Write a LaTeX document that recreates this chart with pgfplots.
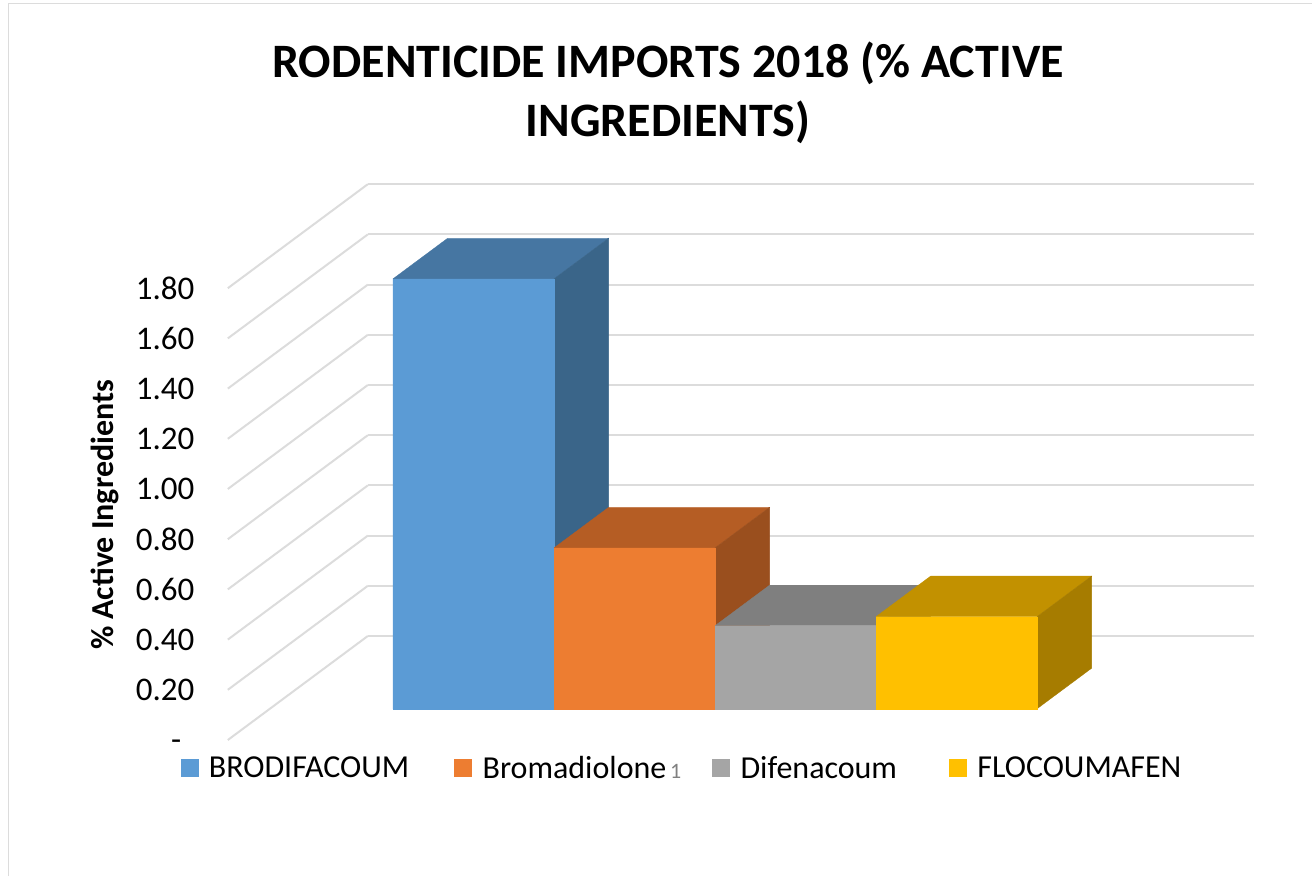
\documentclass[border=0pt]{standalone}
\usepackage{fontspec}
\setmainfont{Carlito}
\usepackage{pgfplots}
\pgfplotsset{compat=1.18}

\definecolor{blueF}{HTML}{5B9BD5}
\definecolor{blueT}{HTML}{4676A2}
\definecolor{blueS}{HTML}{3A6589}
\definecolor{orangeF}{HTML}{ED7D31}
\definecolor{orangeT}{HTML}{B55D24}
\definecolor{orangeS}{HTML}{9A4F1E}
\definecolor{grayF}{HTML}{A5A5A5}
\definecolor{grayT}{HTML}{7F7F7F}
\definecolor{grayS}{HTML}{6A6A6A}
\definecolor{yellowF}{HTML}{FFC000}
\definecolor{yellowT}{HTML}{C29100}
\definecolor{yellowS}{HTML}{A67C00}
\definecolor{gridc}{HTML}{DCDCDC}

% one 3d column: x0, x1, value, colour prefix
\newcommand{\rbar}[4]{
\addplot3[forget plot, fill=#4T, draw=#4T, line width=0.3pt] coordinates {(#1,0.3,#3) (#2,0.3,#3) (#2,0.69,#3) (#1,0.69,#3) (#1,0.3,#3)};
\addplot3[forget plot, fill=#4S, draw=#4S, line width=0.3pt] coordinates {(#2,0.3,0) (#2,0.69,0) (#2,0.69,#3) (#2,0.3,#3) (#2,0.3,0)};
\addplot3[fill=#4F, draw=#4F, line width=0.3pt] coordinates {(#1,0.3,0) (#2,0.3,0) (#2,0.3,#3) (#1,0.3,#3) (#1,0.3,0)};
}

\begin{document}
\begin{tikzpicture}
\begin{axis}[
  x={(161pt,0pt)}, y={(140pt,104pt)}, z={(0pt,251pt)},
  xmin=-0.765, xmax=4.74, ymin=0, ymax=1, zmin=0, zmax=1.8,
  clip=false,
  axis line style={draw=none},
  tick style={draw=none},
  xtick=\empty, ytick=\empty,
  ztick={0,0.2,0.4,0.6,0.8,1.0,1.2,1.4,1.6,1.8},
  zticklabels={\smash{\raisebox{-10pt}{-}}\rule{13pt}{0pt},0.20,0.40,0.60,0.80,1.00,1.20,1.40,1.60,1.80},
  zticklabel style={font=\fontsize{33}{33}\selectfont, anchor=east, xshift=-30pt},
  zmajorgrids,
  major grid style={draw=gridc, line width=2pt},
  title={RODENTICIDE IMPORTS 2018 (\% ACTIVE\\INGREDIENTS)},
  title style={at={(0.429,1.153)}, anchor=center, align=center,
    font=\bfseries\fontsize{48}{59}\selectfont},
  zlabel={\% Active Ingredients},
  every axis z label/.style={at={(-0.12,0.405)}, rotate=90, anchor=center,
    font=\bfseries\fontsize{32}{32}\selectfont},
  legend columns=4,
  legend style={at={(0.4425,-0.05)}, anchor=center, draw=none, fill=none,
    font=\fontsize{32}{32}\selectfont,
    /tikz/every odd column/.append style={column sep=9pt},
    /tikz/every even column/.append style={column sep=29pt}},
  legend cell align=left,
  legend image code/.code={\fill[#1] (0pt,-8.5pt) rectangle (17pt,8.5pt);},
]
\rbar{0}{1}{1.713}{blue}
\addlegendentry{BRODIFACOUM\rule{14pt}{0pt}}
\rbar{1}{2}{0.641}{orange}
\addlegendentry{Bromadiolone{\color{gray}\fontsize{22}{22}\selectfont\,1}}
\rbar{2}{3}{0.331}{gray}
\addlegendentry{Difenacoum\rule{21pt}{0pt}}
\rbar{3}{4}{0.367}{yellow}
\addlegendentry{FLOCOUMAFEN}
\coordinate (O) at (axis cs:0,0,0);
\end{axis}
\useasboundingbox[shift={(O)}] (-351pt,-136pt) rectangle (961pt,740pt);
\draw[shift={(O)}, gridc, line width=1.5pt] (-342.5pt,-136pt) -- (-342.5pt,736.5pt) -- (961pt,736.5pt);
\end{tikzpicture}
\end{document}
